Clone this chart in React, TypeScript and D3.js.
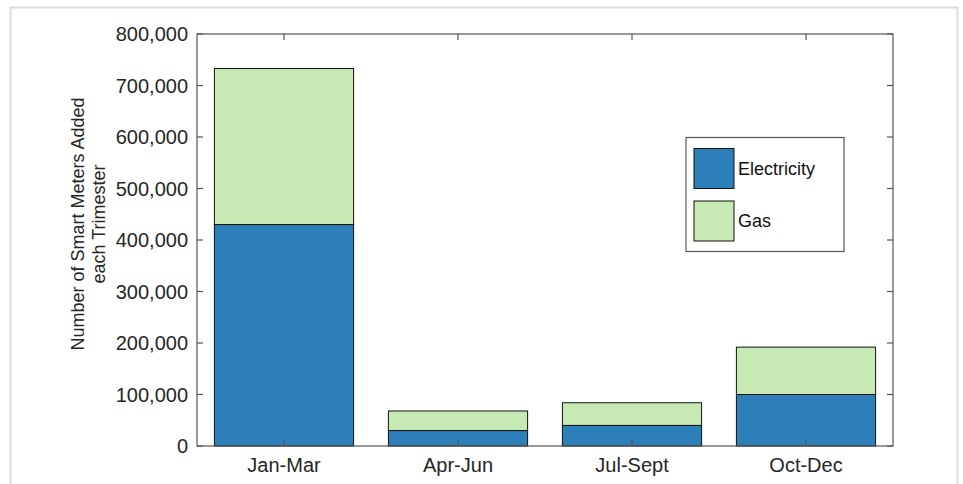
import React from "react";
import * as d3 from "d3";

const categories = ["Jan-Mar", "Apr-Jun", "Jul-Sept", "Oct-Dec"];
const electricity = [430000, 30000, 40000, 100000];
const gas = [303000, 38000, 44000, 92000];
const seriesNames = ["Electricity", "Gas"];
const seriesColors = ["#2c7fb8", "#c7e9b4"];
const yTicks = [0, 100000, 200000, 300000, 400000, 500000, 600000, 700000, 800000];

const W = 963;
const H = 484;
const m = { left: 197, top: 34, right: 893, bottom: 446 };
const FONT = "'Liberation Sans', Arial, Helvetica, sans-serif";
const AX = "#555555";
const TXT = "#262626";

export default function App() {
  const x = d3.scaleBand<string>().domain(categories).range([m.left, m.right]).paddingInner(0.2).paddingOuter(0.1);
  const y = d3.scaleLinear().domain([0, 800000]).range([m.bottom, m.top]);
  const fmt = d3.format(",");
  const rows = categories.map((c, i) => ({ cat: c, Electricity: electricity[i], Gas: gas[i] }));
  const stack = d3.stack<any>().keys(seriesNames)(rows);
  const tick = 6;

  return (
    <svg width={W} height={H} style={{ position: "absolute", left: 0, top: 0, background: "#fff" }} fontFamily={FONT}>
      <rect x={10.5} y={7.5} width={947} height={500} fill="#fff" stroke="#dcdcdc" strokeWidth={2} />
      {stack.map((s, si) => (
        <g key={si}>
          {s.map((d, i) => (
            <rect
              key={i}
              x={x(categories[i])!}
              width={x.bandwidth()}
              y={y(d[1])}
              height={y(d[0]) - y(d[1])}
              fill={seriesColors[si]}
              stroke="#111"
              strokeWidth={1}
            />
          ))}
        </g>
      ))}
      {/* axes box */}
      <rect x={m.left} y={m.top} width={m.right - m.left} height={m.bottom - m.top} fill="none" stroke={AX} strokeWidth={1.2} />
      {yTicks.map((t) => (
        <g key={t}>
          <line x1={m.left} x2={m.left + tick} y1={y(t)} y2={y(t)} stroke={AX} strokeWidth={1.2} />
          <line x1={m.right} x2={m.right - tick} y1={y(t)} y2={y(t)} stroke={AX} strokeWidth={1.2} />
          <text x={m.left - 9} y={y(t)} dy="0.36em" textAnchor="end" fontSize={20} fill={TXT}>
            {fmt(t)}
          </text>
        </g>
      ))}
      {categories.map((c) => {
        const cx = x(c)! + x.bandwidth() / 2;
        return (
          <g key={c}>
            <line x1={cx} x2={cx} y1={m.bottom} y2={m.bottom - tick} stroke={AX} strokeWidth={1.2} />
            <line x1={cx} x2={cx} y1={m.top} y2={m.top + tick} stroke={AX} strokeWidth={1.2} />
            <text x={cx} y={472} textAnchor="middle" fontSize={20} fill={TXT}>
              {c}
            </text>
          </g>
        );
      })}
      <g transform="translate(0,224) rotate(-90)">
        <text x={0} y={84} textAnchor="middle" fontSize={18} fill={TXT}>
          Number of Smart Meters Added
        </text>
        <text x={0} y={105} textAnchor="middle" fontSize={18} fill={TXT}>
          each Trimester
        </text>
      </g>
      {/* legend */}
      <rect x={686} y={137.5} width={158} height={114} fill="#fff" stroke={AX} strokeWidth={1.2} />
      {seriesNames.map((n, i) => (
        <g key={n}>
          <rect x={694} y={148.5 + i * 52.5} width={40} height={40} fill={seriesColors[i]} stroke="#111" strokeWidth={1} />
          <text x={738} y={168.5 + i * 52.5} dy="0.36em" fontSize={18} fill="#111">
            {n}
          </text>
        </g>
      ))}
    </svg>
  );
}
